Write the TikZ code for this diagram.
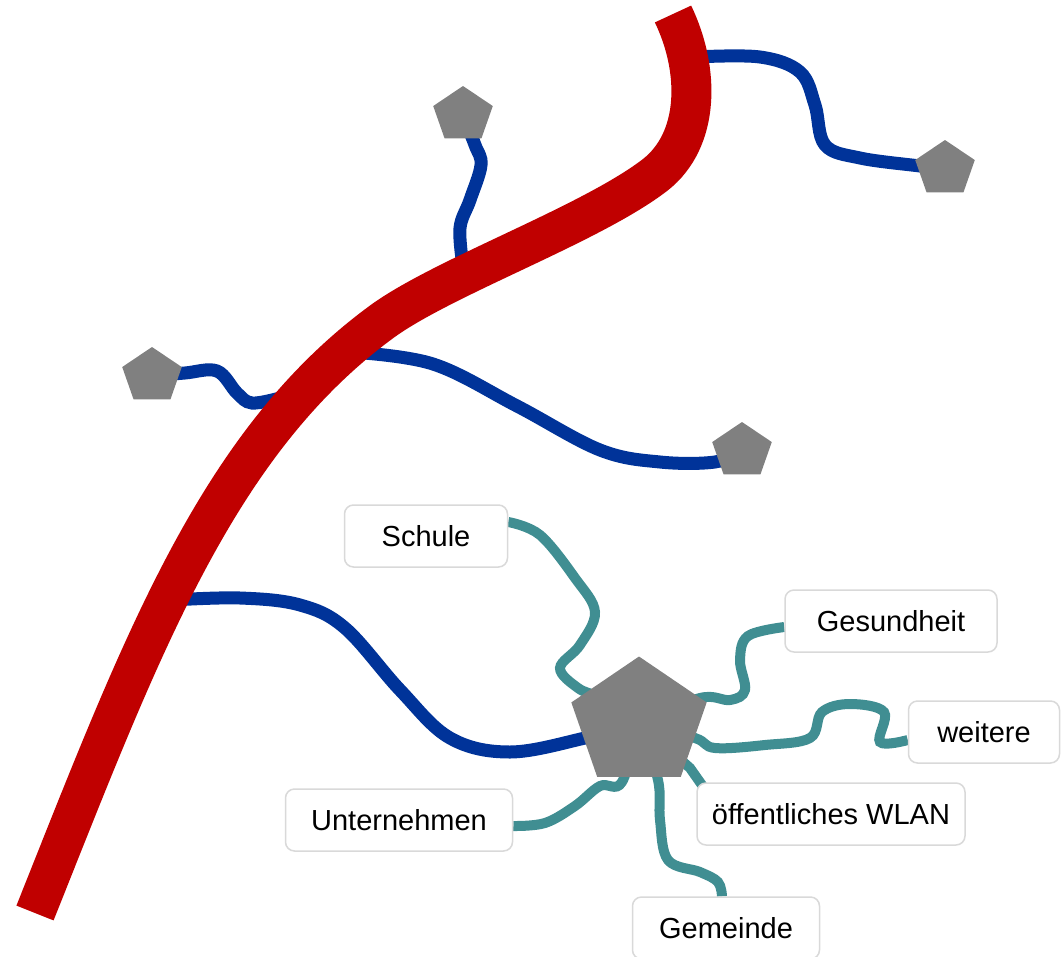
\documentclass[tikz,border=0pt]{standalone}
\usepackage{fontspec}
\setmainfont{Liberation Sans}
\usetikzlibrary{shapes.geometric,backgrounds}
\definecolor{rd}{RGB}{192,0,0}
\definecolor{bl}{RGB}{0,51,153}
\definecolor{tl}{RGB}{64,142,146}
\definecolor{gy}{RGB}{128,128,128}
\definecolor{bd}{RGB}{217,217,217}
\tikzset{
 pent/.style={regular polygon, regular polygon sides=5, fill=gy, draw=none, inner sep=0pt, minimum size=#1, transform shape},
 lbl/.style={draw=bd, line width=1.5pt, rounded corners=9pt, fill=white, minimum height=62pt, font=\fontsize{29}{34}\selectfont, inner sep=0pt},
 road/.style={draw=rd, line width=40pt},
 fiber/.style={draw=bl, line width=13pt},
 link/.style={draw=tl, line width=10pt},
}
\begin{document}
\begin{tikzpicture}[x=1pt,y=-1pt]
\useasboundingbox (0,0) rectangle (1063,956);
% red trunk end points and branch points
\coordinate (r0) at (35,913);
\coordinate (r4) at (380,323);
\coordinate (r7) at (655,175);
\coordinate (r9) at (673,14);
\coordinate (a1) at (463,266);
\coordinate (a2) at (695,57);
\coordinate (a3) at (280,398);
\coordinate (a4) at (350,352);
\coordinate (a5) at (172,600);
% pentagons
\begin{scope}[shift={(463,115)}, xscale=1.08]
\node[pent=58pt] (p1) at (0,0) {};
\end{scope}
\begin{scope}[shift={(945,169)}, xscale=1.08]
\node[pent=58pt] (p2) at (0,0) {};
\end{scope}
\begin{scope}[shift={(152,376)}, xscale=1.08]
\node[pent=58pt] (p3) at (0,0) {};
\end{scope}
\begin{scope}[shift={(742,451)}, xscale=1.08]
\node[pent=58pt] (p4) at (0,0) {};
\end{scope}
\begin{scope}[shift={(639,723)}, xscale=1.07]
\node[pent=133pt] (hub) at (0,0) {};
\end{scope}
% labels
\node[lbl, minimum width=163pt] (schule) at (426,536) {Schule};
\node[lbl, minimum width=212pt] (gesund) at (891,621) {Gesundheit};
\node[lbl, minimum width=151pt] (weitere) at (984,732) {weitere};
\node[lbl, minimum width=268pt] (wlan) at (831,814) {öffentliches WLAN};
\node[lbl, minimum width=227pt] (untern) at (399,820) {Unternehmen};
\node[lbl, minimum width=187pt] (gem) at (726,928) {Gemeinde};
\begin{pgfonlayer}{background}
% teal links
\draw[link] plot[smooth, tension=0.6] coordinates {([yshift=14pt]schule.east) (540,535) (575,578) (595,612) (580,645) (560,668) (578,688) (600,698) (hub.center)};
\draw[link] plot[smooth, tension=0.6] coordinates {([yshift=-6pt]gesund.west) (748,636) (740,660) (745,690) (730,700) (700,698) (hub.center)};
\draw[link] plot[smooth, tension=0.6] coordinates {([yshift=-8pt]weitere.west) (880,742) (884,712) (850,704) (822,712) (810,738) (765,745) (715,748) (695,738) (hub.center)};
\draw[link] (hub.center) -- (690,768) -- ([xshift=8pt,yshift=-6pt]wlan.north west);
\draw[link] plot[smooth, tension=0.6] coordinates {([yshift=-6pt]untern.east) (545,823) (575,806) (600,786) (622,782) (hub.center)};
\draw[link] plot[smooth, tension=0.6] coordinates {([xshift=-4pt]gem.north) (718,882) (700,872) (668,860) (660,820) (658,780) (hub.center)};
% blue fibres
\draw[fiber] plot[smooth, tension=0.6] coordinates {(p1.center) (475,145) (481,165) (470,200) (460,228) (a1)};
\draw[fiber] plot[smooth, tension=0.6] coordinates {(a2) (760,57) (800,72) (815,105) (825,145) (860,158) (920,166) (p2.center)};
\draw[fiber] plot[smooth, tension=0.6] coordinates {(p3.center) (185,373) (217,371) (237,393) (252,403) (a3)};
\draw[fiber] plot[smooth, tension=0.6] coordinates {(a4) (433,364) (517,406) (600,450) (660,462) (715,462) (p4.center)};
\draw[fiber] plot[smooth, tension=0.6] coordinates {(a5) (240,598) (300,605) (345,628) (400,690) (450,738) (510,752) (585,738) (hub.center)};
% red trunk
\draw[road] (r0) .. controls (140,650) and (215,445) .. (r4) .. controls (440,278) and (590,225) .. (r7) .. controls (700,140) and (700,70) .. (r9);
\end{pgfonlayer}
\end{tikzpicture}
\end{document}
